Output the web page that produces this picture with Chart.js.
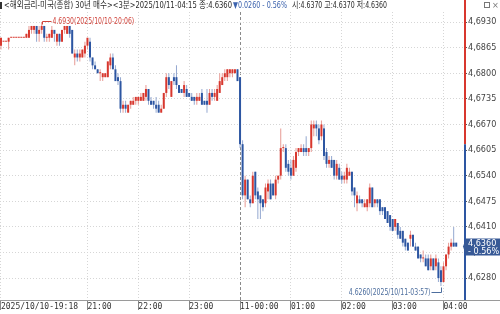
<!DOCTYPE html>
<html>
<head>
<meta charset="utf-8">
<script src="https://cdn.jsdelivr.net/npm/chart.js@4.4.1/dist/chart.umd.min.js"></script>
<style>
  html, body { margin: 0; padding: 0; background: #fff; }
  #wrap { position: relative; width: 500px; height: 314px; overflow: hidden; }
  #head { position: absolute; left: 0; top: 0; width: 500px; height: 11px;
          font: 9px "DejaVu Sans Condensed", "Noto Sans CJK KR", sans-serif;
          color: #2a2a2a; white-space: nowrap; line-height: 10px; }
  #head span { position: absolute; top: 0; transform-origin: left center; }
</style>
</head>
<body>
<div id="wrap">
  <canvas id="chart" width="500" height="314"></canvas>
  <div id="head">
    <span style="left:0;top:2px;width:2px;height:7px;background:#333"></span>
    <span data-w="228" style="left:4px">&lt;해외금리-미국(종합) 30년 매수&gt;&lt;3분&gt;2025/10/11-04:15 종:4.6360</span>
    <span data-w="54" style="left:233px;color:#3b62ad">▼0.0260 - 0.56%</span>
    <span data-w="95" style="left:292px">시:4.6370 고:4.6370 저:4.6360</span>
    <span style="left:484px;top:2px;width:6px;height:6px;border:1px solid #777;box-sizing:border-box"></span>
    <span style="left:492px;color:#777">×</span>
  </div>
</div>
<script>
// 3-minute bars, 2025/10/10-19:18 .. 2025/10/11-04:15, [open, high, low, close]
const ohlc = [
  [4.687,4.689,4.686,4.689],[4.688,4.688,4.688,4.688],[4.688,4.688,4.688,4.688],[4.688,4.689,4.686,4.689],[4.689,4.689,4.689,4.689],[4.689,4.689,4.689,4.689],[4.689,4.689,4.689,4.689],[4.689,4.689,4.689,4.689],[4.689,4.689,4.689,4.689],[4.689,4.689,4.689,4.689],
  [4.689,4.690,4.689,4.690],[4.689,4.692,4.689,4.691],[4.691,4.692,4.690,4.692],[4.691,4.692,4.690,4.692],[4.692,4.692,4.688,4.690],[4.690,4.692,4.688,4.691],[4.691,4.693,4.690,4.692],[4.692,4.692,4.688,4.689],[4.689,4.690,4.688,4.689],[4.689,4.690,4.688,4.690],
  [4.689,4.692,4.689,4.691],[4.691,4.691,4.688,4.690],[4.688,4.690,4.687,4.690],[4.690,4.690,4.687,4.688],[4.688,4.691,4.688,4.691],[4.691,4.692,4.690,4.692],[4.690,4.692,4.690,4.692],[4.692,4.692,4.689,4.690],[4.691,4.691,4.685,4.685],[4.684,4.686,4.682,4.685],
  [4.685,4.686,4.683,4.684],[4.684,4.686,4.683,4.685],[4.684,4.686,4.684,4.686],[4.685,4.688,4.684,4.687],[4.687,4.689,4.686,4.689],[4.688,4.689,4.683,4.684],[4.684,4.684,4.681,4.682],[4.682,4.683,4.681,4.681],[4.681,4.681,4.680,4.680],[4.680,4.681,4.678,4.680],
  [4.679,4.680,4.678,4.680],[4.679,4.680,4.679,4.680],[4.679,4.683,4.679,4.683],[4.682,4.685,4.681,4.684],[4.684,4.685,4.681,4.681],[4.681,4.682,4.678,4.678],[4.679,4.680,4.677,4.678],[4.678,4.679,4.670,4.671],[4.671,4.673,4.670,4.672],[4.672,4.673,4.670,4.671],
  [4.670,4.672,4.670,4.672],[4.672,4.673,4.671,4.673],[4.672,4.674,4.672,4.673],[4.673,4.674,4.672,4.674],[4.673,4.674,4.672,4.674],[4.673,4.675,4.673,4.674],[4.673,4.675,4.673,4.675],[4.674,4.677,4.673,4.676],[4.676,4.676,4.672,4.673],[4.673,4.674,4.672,4.672],
  [4.673,4.673,4.671,4.672],[4.672,4.674,4.670,4.671],[4.672,4.673,4.670,4.670],[4.670,4.672,4.670,4.671],[4.671,4.675,4.671,4.675],[4.675,4.680,4.674,4.679],[4.679,4.680,4.676,4.677],[4.674,4.678,4.674,4.678],[4.679,4.680,4.677,4.678],[4.679,4.682,4.676,4.677],
  [4.677,4.677,4.675,4.675],[4.676,4.676,4.675,4.675],[4.675,4.678,4.674,4.677],[4.676,4.677,4.674,4.674],[4.675,4.675,4.674,4.674],[4.674,4.675,4.673,4.673],[4.674,4.674,4.672,4.673],[4.673,4.675,4.672,4.674],[4.673,4.675,4.673,4.674],[4.675,4.676,4.672,4.672],
  [4.673,4.673,4.672,4.672],[4.673,4.676,4.670,4.672],[4.672,4.676,4.672,4.675],[4.675,4.676,4.673,4.674],[4.674,4.676,4.673,4.675],[4.673,4.677,4.673,4.676],[4.675,4.680,4.675,4.678],[4.677,4.680,4.677,4.679],[4.679,4.681,4.678,4.680],[4.679,4.681,4.678,4.681],
  [4.680,4.681,4.679,4.681],[4.680,4.681,4.679,4.681],[4.680,4.681,4.680,4.681],[4.681,4.681,4.678,4.678],[4.679,4.679,4.661,4.662],[4.662,4.663,4.648,4.649],[4.649,4.654,4.646,4.653],[4.653,4.653,4.648,4.648],[4.648,4.649,4.646,4.647],[4.647,4.655,4.647,4.654],
  [4.655,4.655,4.648,4.649],[4.650,4.651,4.643,4.648],[4.649,4.649,4.643,4.647],[4.648,4.648,4.645,4.646],[4.647,4.652,4.646,4.651],[4.650,4.653,4.648,4.652],[4.652,4.653,4.648,4.648],[4.652,4.652,4.649,4.649],[4.649,4.654,4.648,4.653],[4.653,4.654,4.652,4.654],
  [4.654,4.666,4.653,4.661],[4.661,4.662,4.660,4.661],[4.661,4.662,4.655,4.656],[4.657,4.658,4.654,4.655],[4.656,4.658,4.653,4.654],[4.654,4.659,4.654,4.658],[4.656,4.661,4.655,4.660],[4.660,4.661,4.659,4.661],[4.660,4.662,4.660,4.661],[4.661,4.662,4.659,4.660],
  [4.661,4.664,4.659,4.660],[4.660,4.661,4.659,4.661],[4.661,4.668,4.660,4.667],[4.666,4.668,4.664,4.667],[4.667,4.668,4.664,4.666],[4.666,4.667,4.662,4.663],[4.664,4.668,4.663,4.667],[4.666,4.667,4.658,4.659],[4.660,4.661,4.656,4.657],[4.657,4.659,4.656,4.658],
  [4.658,4.659,4.656,4.656],[4.658,4.658,4.653,4.654],[4.654,4.658,4.653,4.657],[4.656,4.657,4.653,4.653],[4.654,4.655,4.652,4.653],[4.653,4.655,4.652,4.654],[4.653,4.657,4.652,4.656],[4.654,4.656,4.654,4.655],[4.655,4.655,4.649,4.650],[4.651,4.651,4.646,4.649],
  [4.647,4.650,4.645,4.649],[4.648,4.649,4.647,4.647],[4.648,4.648,4.646,4.647],[4.646,4.648,4.646,4.647],[4.646,4.648,4.645,4.648],[4.647,4.652,4.646,4.651],[4.651,4.651,4.646,4.646],[4.647,4.648,4.646,4.648],[4.648,4.648,4.646,4.647],[4.648,4.648,4.644,4.645],
  [4.646,4.646,4.644,4.645],[4.646,4.646,4.643,4.643],[4.645,4.645,4.642,4.642],[4.644,4.644,4.640,4.641],[4.643,4.643,4.640,4.640],[4.641,4.643,4.640,4.643],[4.642,4.642,4.638,4.639],[4.640,4.641,4.638,4.638],[4.640,4.640,4.636,4.637],[4.638,4.638,4.635,4.636],
  [4.637,4.637,4.635,4.635],[4.638,4.640,4.636,4.639],[4.639,4.639,4.636,4.636],[4.636,4.637,4.635,4.635],[4.636,4.636,4.633,4.633],[4.634,4.634,4.632,4.633],[4.633,4.635,4.632,4.633],[4.633,4.634,4.631,4.631],[4.633,4.634,4.630,4.630],[4.631,4.634,4.630,4.633],
  [4.633,4.633,4.630,4.630],[4.631,4.634,4.630,4.633],[4.632,4.633,4.627,4.628],[4.630,4.631,4.626,4.627],[4.627,4.632,4.627,4.631],[4.631,4.634,4.630,4.634],[4.634,4.637,4.633,4.636],[4.636,4.638,4.635,4.637],[4.637,4.641,4.636,4.636],[4.637,4.637,4.636,4.636]
]

// bar index of each time label
const xTickIndex = [0, 34, 54, 74, 94, 114, 134, 154, 174]
const xTickLabels = ['2025/10/10-19:18', '21:00', '22:00', '23:00', '11-00:00', '01:00', '02:00', '03:00', '04:00']
const dayBreakIndex = 94

const yTicks = [4.6280, 4.6345, 4.6410, 4.6475, 4.6540, 4.6605, 4.6670, 4.6735, 4.6800, 4.6865, 4.6930]

const prevClose = 4.6620
const lastPrice = 4.6360
const lastChange = '- 0.56%'
const hiLabel = '4.6930(2025/10/10-20:06)'
const loLabel = '4.6260(2025/10/11-03:57)'

const RED = '#d8372e'
const BLUE = '#2d56a2'
const RED_WICK = '#e79a94'
const BLUE_WICK = '#94a8d0'
const FONT = '"DejaVu Sans Condensed", sans-serif'

const isUp = i => ohlc[i][3] >= ohlc[i][0]
const fmt = v => v.toFixed(4).replace('.', ',')

// squeeze the header pieces to the widths of the reference font
document.querySelectorAll('#head [data-w]').forEach(el => {
  const w = el.getBoundingClientRect().width
  el.style.transform = 'scaleX(' + (el.dataset.w / w) + ')'
})

const overlay = {
  id: 'overlay',
  afterDraw(chart) {
    const { ctx, chartArea: a, scales: { x, y } } = chart
    ctx.save()

    // x axis line continues under the price axis
    ctx.strokeStyle = '#9a9a9a'
    ctx.lineWidth = 1
    ctx.beginPath()
    ctx.moveTo(a.right, a.bottom + 0.5)
    ctx.lineTo(500, a.bottom + 0.5)
    ctx.stroke()

    // price axis, red above previous close, blue below
    const ax = a.right + 1
    const yp = y.getPixelForValue(prevClose)
    ctx.lineWidth = 2
    ctx.strokeStyle = RED
    ctx.beginPath(); ctx.moveTo(ax, 0); ctx.lineTo(ax, yp); ctx.stroke()
    ctx.strokeStyle = BLUE
    ctx.beginPath(); ctx.moveTo(ax, yp); ctx.lineTo(ax, a.bottom); ctx.stroke()

    // high / low markers
    let hi = 0, lo = 0
    ohlc.forEach((d, i) => {
      if (d[1] > ohlc[hi][1]) hi = i
      if (d[2] < ohlc[lo][2]) lo = i
    })
    ctx.lineWidth = 1
    ctx.font = '9px ' + FONT
    ctx.textBaseline = 'middle'

    let px = Math.round(x.getPixelForValue(hi)) + 0.5
    let py = Math.round(y.getPixelForValue(ohlc[hi][1])) - 0.5
    ctx.strokeStyle = ctx.fillStyle = '#d0443c'
    ctx.beginPath(); ctx.moveTo(px, py + 3); ctx.lineTo(px, py); ctx.lineTo(px + 9, py); ctx.stroke()
    ctx.save()
    ctx.translate(px + 10, py)
    ctx.scale(0.76, 1)
    ctx.fillText(hiLabel, 0, 0)
    ctx.restore()

    px = Math.round(x.getPixelForValue(lo)) + 0.5
    py = Math.round(y.getPixelForValue(ohlc[lo][2])) + 0.5
    ctx.strokeStyle = ctx.fillStyle = '#4d6e9e'
    ctx.beginPath(); ctx.moveTo(px, py + 1); ctx.lineTo(px, py + 6); ctx.lineTo(px - 10, py + 6); ctx.stroke()
    ctx.save()
    ctx.translate(px - 11, py + 6)
    ctx.scale(0.76, 1)
    ctx.textAlign = 'right'
    ctx.fillText(loLabel, 0, 0)
    ctx.restore()

    // last price box
    const by = y.getPixelForValue(lastPrice)
    ctx.fillStyle = '#375996'
    ctx.beginPath()
    ctx.moveTo(a.right - 1, by)
    ctx.lineTo(a.right + 2, by - 8)
    ctx.lineTo(500, by - 8)
    ctx.lineTo(500, by + 9)
    ctx.lineTo(a.right + 2, by + 9)
    ctx.closePath()
    ctx.fill()
    ctx.fillStyle = '#fff'
    ctx.textAlign = 'left'
    ctx.font = '9px ' + FONT
    ctx.fillText(fmt(lastPrice), a.right + 4, by - 3)
    ctx.fillText(lastChange, a.right + 4, by + 5)

    ctx.restore()
  }
}

new Chart(document.getElementById('chart'), {
  type: 'bar',
  data: {
    datasets: [
      {
        data: ohlc.map((d, i) => ({ x: i, y: [d[2], d[1]] })),
        backgroundColor: c => isUp(c.dataIndex) ? RED_WICK : BLUE_WICK,
        barThickness: 1,
        grouped: false,
        inflateAmount: 0,
        order: 2
      },
      {
        data: ohlc.map((d, i) => ({ x: i, y: [d[0], d[3]] })),
        backgroundColor: c => isUp(c.dataIndex) ? RED : BLUE,
        barThickness: 2,
        minBarLength: 1,
        grouped: false,
        inflateAmount: 0,
        order: 1
      }
    ]
  },
  options: {
    responsive: false,
    animation: false,
    layout: { padding: { top: 12, left: 0, right: 0, bottom: 0 } },
    plugins: { legend: { display: false }, tooltip: { enabled: false } },
    scales: {
      x: {
        type: 'linear',
        position: 'bottom',
        min: -0.39,
        max: 182.06,
        offset: false,
        afterBuildTicks: s => { s.ticks = xTickIndex.map(v => ({ value: v })) },
        afterFit: s => { s.height = 14 },
        ticks: {
          callback: (v, i) => xTickLabels[i],
          align: 'start',
          autoSkip: false,
          maxRotation: 0,
          padding: -8,
          color: '#333',
          font: { family: '"DejaVu Sans Mono", monospace', size: 8 }
        },
        grid: {
          offset: false,
          color: c => c.tick && c.tick.value === dayBreakIndex ? '#8a8a8a' : '#d6d6d6',
          tickLength: 10,
          tickColor: '#888'
        },
        border: {
          color: '#9a9a9a',
          dash: c => c.tick && c.tick.value === dayBreakIndex ? [3, 2] : [1, 2]
        }
      },
      y: {
        type: 'linear',
        position: 'right',
        min: 4.62245,
        max: 4.69554,
        afterBuildTicks: s => { s.ticks = yTicks.map(v => ({ value: v })) },
        afterFit: s => { s.width = 36 },
        ticks: {
          callback: v => fmt(v),
          padding: 1,
          color: '#444',
          font: { family: FONT, size: 9 }
        },
        grid: {
          color: '#d6d6d6',
          tickLength: 3,
          tickColor: '#555'
        },
        border: { display: false, dash: [1, 2] }
      }
    }
  },
  plugins: [overlay]
})
</script>
</body>
</html>
